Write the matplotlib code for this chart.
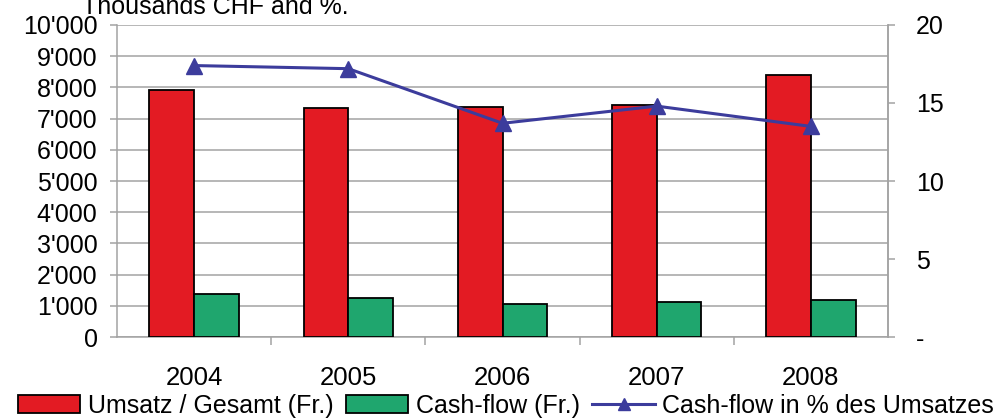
import matplotlib
matplotlib.use("Agg")
import matplotlib.pyplot as plt
from matplotlib.ticker import FuncFormatter, FixedLocator
import numpy as np

plt.rcParams["font.family"] = ["Liberation Sans", "DejaVu Sans"]

years = ["2004", "2005", "2006", "2007", "2008"]
umsatz = [7930, 7330, 7380, 7430, 8400]
cashflow = [1390, 1240, 1050, 1110, 1170]
cashflow_pct = [17.4, 17.2, 13.7, 14.8, 13.5]

RED = "#e31b23"
GREEN = "#1fa66e"
BLUE = "#3c3c9c"
GRID = "#a3a3a3"


def _thousands(value, _pos):
    return f"{int(value):,}".replace(",", "'")


def _pct(value, _pos):
    return "-" if value == 0 else f"{value:.0f}"


fig = plt.figure(figsize=(10.06, 4.19), dpi=100, facecolor="white")
ax = fig.add_axes([117 / 1006, 1 - 337 / 419, (888 - 117) / 1006, (337 - 25) / 419])

x = np.arange(len(years))
width = 0.29
ax.bar(x - width / 2, umsatz, width, color=RED, edgecolor="black", linewidth=1.3,
       label="Umsatz / Gesamt (Fr.)", zorder=3)
ax.bar(x + width / 2, cashflow, width, color=GREEN, edgecolor="black", linewidth=1.3,
       label="Cash-flow (Fr.)", zorder=3)

ax.set_xlim(-0.5, len(years) - 0.5)
ax.set_ylim(0, 10000)
ax.set_yticks(np.arange(0, 10001, 1000))
ax.yaxis.set_major_formatter(FuncFormatter(_thousands))
ax.grid(axis="y", color=GRID, linewidth=1.1, zorder=0)
ax.set_axisbelow(True)

ax.set_xticks(x)
ax.set_xticklabels(years)
ax.xaxis.set_minor_locator(FixedLocator(np.arange(0.5, len(years) - 1, 1)))
ax.tick_params(axis="x", which="major", length=0, pad=21, labelsize=18.5)
ax.tick_params(axis="x", which="minor", length=6, color=GRID, width=1.1)
ax.tick_params(axis="y", length=5, color=GRID, width=1.1, pad=9, labelsize=18)

ax.spines["top"].set_visible(False)
for side in ["left", "bottom", "right"]:
    ax.spines[side].set_color(GRID)
    ax.spines[side].set_linewidth(1.1)

ax2 = ax.twinx()
ax2.plot(x, cashflow_pct, color=BLUE, linewidth=2.2, marker="^", markersize=11,
         label="Cash-flow in % des Umsatzes", zorder=4)
ax2.set_ylim(0, 20)
ax2.set_yticks([0, 5, 10, 15, 20])
ax2.yaxis.set_major_formatter(FuncFormatter(_pct))
ax2.tick_params(axis="y", length=5, color=GRID, width=1.1, pad=15, labelsize=18)
for side in ["top", "left", "bottom"]:
    ax2.spines[side].set_visible(False)
ax2.spines["right"].set_color(GRID)
ax2.spines["right"].set_linewidth(1.1)

fig.text(82 / 1006, 1 - 14 / 419, "Thousands CHF and %.", fontsize=18, va="baseline", ha="left")

handles1, labels1 = ax.get_legend_handles_labels()
handles2, labels2 = ax2.get_legend_handles_labels()
fig.legend(handles1 + handles2, labels1 + labels2, loc="center", bbox_to_anchor=(0.503, 13 / 419),
           ncol=3, frameon=False, fontsize=18, handlelength=2.5, handleheight=0.75,
           handletextpad=0.3, columnspacing=0.5, borderpad=0, borderaxespad=0, markerscale=0.85)

fig.savefig("out.png", dpi=100, facecolor="white")
